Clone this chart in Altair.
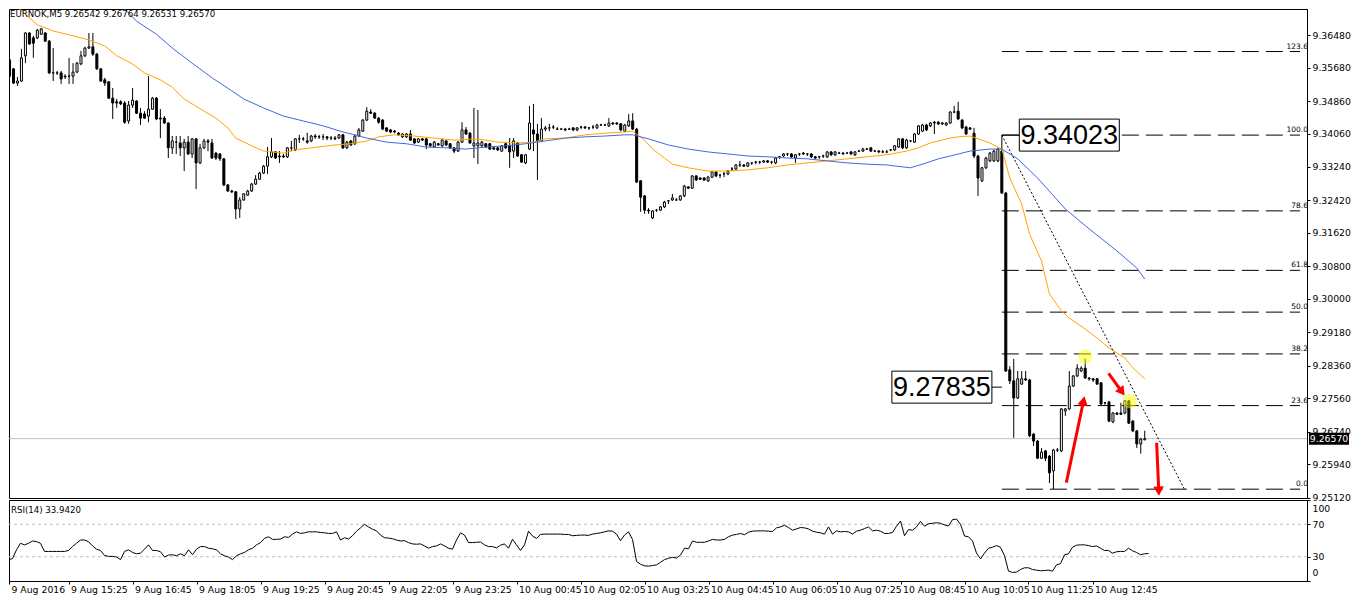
import json
import math
import altair as alt
import pandas as pd

# ---------------- data ----------------
SYMBOL = "EURNOK,M5"
TIME_LABELS = ["9 Aug 2016", "9 Aug 15:25", "9 Aug 16:45", "9 Aug 18:05", "9 Aug 19:25",
               "9 Aug 20:45", "9 Aug 22:05", "9 Aug 23:25", "10 Aug 00:45", "10 Aug 02:05",
               "10 Aug 03:25", "10 Aug 04:45", "10 Aug 06:05", "10 Aug 07:25", "10 Aug 08:45",
               "10 Aug 10:05", "10 Aug 11:25", "10 Aug 12:45"]
BARS_PER_LABEL = 16

OPENS = [
 9.3587, 9.3565, 9.3530, 9.3535, 9.3597, 9.3653, 9.3641, 9.3641, 9.3650, 9.3653,
 9.3633, 9.3555, 9.3555, 9.3555, 9.3545, 9.3547, 9.3547, 9.3557, 9.3577, 9.3597,
 9.3616, 9.3619, 9.3601, 9.3565, 9.3538, 9.3533, 9.3493, 9.3484, 9.3484, 9.3481,
 9.3437, 9.3476, 9.3486, 9.3456, 9.3454, 9.3449, 9.3466, 9.3493, 9.3444, 9.3444,
 9.3432, 9.3371, 9.3385, 9.3383, 9.3371, 9.3385, 9.3356, 9.3393, 9.3334, 9.3371,
 9.3388, 9.3383, 9.3358, 9.3356, 9.3344, 9.3280, 9.3265, 9.3263, 9.3221, 9.3243,
 9.3255, 9.3265, 9.3282, 9.3294, 9.3309, 9.3326, 9.3349, 9.3361, 9.3351, 9.3351,
 9.3349, 9.3371, 9.3366, 9.3393, 9.3393, 9.3388, 9.3388, 9.3400, 9.3398, 9.3398,
 9.3398, 9.3395, 9.3395, 9.3395, 9.3403, 9.3371, 9.3388, 9.3381, 9.3400, 9.3412,
 9.3439, 9.3459, 9.3456, 9.3444, 9.3439, 9.3420, 9.3415, 9.3412, 9.3407, 9.3398,
 9.3398, 9.3405, 9.3393, 9.3385, 9.3393, 9.3393, 9.3381, 9.3373, 9.3381, 9.3376,
 9.3388, 9.3381, 9.3371, 9.3363, 9.3385, 9.3415, 9.3407, 9.3376, 9.3376, 9.3376,
 9.3381, 9.3381, 9.3371, 9.3371, 9.3363, 9.3381, 9.3376, 9.3363, 9.3383, 9.3354,
 9.3334, 9.3368, 9.3415, 9.3405, 9.3388, 9.3417, 9.3420, 9.3422, 9.3417, 9.3417,
 9.3417, 9.3417, 9.3420, 9.3415, 9.3422, 9.3422, 9.3420, 9.3422, 9.3420, 9.3427,
 9.3427, 9.3425, 9.3432, 9.3432, 9.3430, 9.3412, 9.3425, 9.3437, 9.3417, 9.3290,
 9.3253, 9.3218, 9.3199, 9.3218, 9.3218, 9.3226, 9.3241, 9.3243, 9.3243, 9.3243,
 9.3253, 9.3275, 9.3272, 9.3302, 9.3297, 9.3297, 9.3290, 9.3299, 9.3312, 9.3304,
 9.3307, 9.3307, 9.3319, 9.3319, 9.3329, 9.3329, 9.3326, 9.3334, 9.3336, 9.3336,
 9.3336, 9.3339, 9.3336, 9.3334, 9.3349, 9.3351, 9.3356, 9.3356, 9.3346, 9.3356,
 9.3358, 9.3356, 9.3356, 9.3349, 9.3349, 9.3351, 9.3349, 9.3361, 9.3354, 9.3358,
 9.3358, 9.3358, 9.3361, 9.3354, 9.3363, 9.3363, 9.3368, 9.3371, 9.3363, 9.3363,
 9.3361, 9.3361, 9.3366, 9.3366, 9.3373, 9.3393, 9.3371, 9.3388, 9.3385, 9.3405,
 9.3412, 9.3427, 9.3425, 9.3434, 9.3434, 9.3432, 9.3427, 9.3432, 9.3459, 9.3461,
 9.3439, 9.3422, 9.3420, 9.3407, 9.3351, 9.3290, 9.3322, 9.3339, 9.3339, 9.3339,
 9.3363, 9.3260, 9.2826, 9.2799, 9.2757, 9.2791, 9.2804, 9.2801, 9.2668, 9.2651,
 9.2609, 9.2627, 9.2614, 9.2578, 9.2629, 9.2627, 9.2725, 9.2730, 9.2786, 9.2811,
 9.2823, 9.2830, 9.2806, 9.2804, 9.2804, 9.2794, 9.2745, 9.2747, 9.2698, 9.2720,
 9.2720, 9.2720, 9.2750, 9.2700, 9.2676, 9.2644, 9.26542]

HIGHS = [
 9.3592, 9.3567, 9.3545, 9.3614, 9.3655, 9.3655, 9.3646, 9.3663, 9.3665, 9.3655,
 9.3636, 9.3616, 9.3560, 9.3560, 9.3552, 9.3592, 9.3579, 9.3582, 9.3609, 9.3619,
 9.3653, 9.3653, 9.3604, 9.3567, 9.3543, 9.3535, 9.3518, 9.3491, 9.3488, 9.3486,
 9.3486, 9.3518, 9.3488, 9.3469, 9.3461, 9.3547, 9.3496, 9.3496, 9.3466, 9.3449,
 9.3434, 9.3400, 9.3400, 9.3400, 9.3393, 9.3400, 9.3395, 9.3395, 9.3381, 9.3393,
 9.3393, 9.3393, 9.3361, 9.3358, 9.3346, 9.3282, 9.3268, 9.3265, 9.3250, 9.3260,
 9.3268, 9.3285, 9.3304, 9.3312, 9.3329, 9.3373, 9.3395, 9.3363, 9.3363, 9.3356,
 9.3373, 9.3388, 9.3395, 9.3403, 9.3398, 9.3408, 9.3403, 9.3405, 9.3403, 9.3405,
 9.3400, 9.3400, 9.3400, 9.3405, 9.3405, 9.3388, 9.3390, 9.3403, 9.3420, 9.3442,
 9.3471, 9.3466, 9.3459, 9.3447, 9.3442, 9.3422, 9.3417, 9.3415, 9.3410, 9.3407,
 9.3407, 9.3415, 9.3395, 9.3395, 9.3395, 9.3395, 9.3383, 9.3388, 9.3383, 9.3393,
 9.3390, 9.3383, 9.3373, 9.3388, 9.3434, 9.3422, 9.3410, 9.3469, 9.3464, 9.3388,
 9.3383, 9.3383, 9.3373, 9.3373, 9.3378, 9.3383, 9.3395, 9.3395, 9.3385, 9.3356,
 9.3356, 9.3474, 9.3479, 9.3430, 9.3444, 9.3425, 9.3430, 9.3427, 9.3422, 9.3420,
 9.3420, 9.3420, 9.3422, 9.3422, 9.3425, 9.3425, 9.3422, 9.3427, 9.3430, 9.3430,
 9.3430, 9.3444, 9.3434, 9.3434, 9.3432, 9.3430, 9.3454, 9.3456, 9.3420, 9.3292,
 9.3255, 9.3223, 9.3218, 9.3221, 9.3228, 9.3241, 9.3243, 9.3258, 9.3248, 9.3255,
 9.3280, 9.3277, 9.3304, 9.3304, 9.3299, 9.3299, 9.3302, 9.3314, 9.3314, 9.3307,
 9.3312, 9.3317, 9.3324, 9.3331, 9.3339, 9.3331, 9.3336, 9.3336, 9.3339, 9.3339,
 9.3341, 9.3341, 9.3339, 9.3349, 9.3351, 9.3358, 9.3358, 9.3358, 9.3356, 9.3358,
 9.3361, 9.3358, 9.3358, 9.3351, 9.3351, 9.3354, 9.3363, 9.3363, 9.3363, 9.3361,
 9.3361, 9.3361, 9.3363, 9.3363, 9.3366, 9.3371, 9.3371, 9.3373, 9.3366, 9.3366,
 9.3366, 9.3366, 9.3368, 9.3378, 9.3395, 9.3395, 9.3393, 9.3390, 9.3407, 9.3427,
 9.3430, 9.3430, 9.3434, 9.3437, 9.3437, 9.3434, 9.3434, 9.3461, 9.3474, 9.3484,
 9.3442, 9.3425, 9.3422, 9.3420, 9.3354, 9.3324, 9.3349, 9.3361, 9.3366, 9.3371,
 9.34023, 9.3263, 9.2835, 9.2853, 9.2823, 9.2823, 9.2823, 9.2804, 9.2671, 9.2654,
 9.2634, 9.2629, 9.2617, 9.2632, 9.2634, 9.2732, 9.2732, 9.2823, 9.2813, 9.2840,
 9.2835, 9.2853, 9.2808, 9.2806, 9.2806, 9.2796, 9.2747, 9.2750, 9.2722, 9.2722,
 9.2745, 9.2752, 9.2752, 9.2703, 9.2678, 9.2659, 9.26764]

LOWS = [
 9.3543, 9.3528, 9.3523, 9.3533, 9.3579, 9.3624, 9.3592, 9.3638, 9.3648, 9.3631,
 9.3552, 9.3535, 9.3550, 9.3528, 9.3540, 9.3528, 9.3528, 9.3555, 9.3574, 9.3594,
 9.3614, 9.3597, 9.3562, 9.3533, 9.3523, 9.3491, 9.3442, 9.3469, 9.3476, 9.3430,
 9.3430, 9.3469, 9.3454, 9.3427, 9.3442, 9.3434, 9.3464, 9.3439, 9.3395, 9.3430,
 9.3346, 9.3356, 9.3356, 9.3351, 9.3314, 9.3354, 9.3346, 9.3270, 9.3331, 9.3368,
 9.3363, 9.3344, 9.3341, 9.3339, 9.3277, 9.3263, 9.3260, 9.3196, 9.3199, 9.3241,
 9.3253, 9.3263, 9.3280, 9.3292, 9.3307, 9.3307, 9.3346, 9.3344, 9.3334, 9.3346,
 9.3346, 9.3363, 9.3363, 9.3383, 9.3388, 9.3381, 9.3385, 9.3393, 9.3393, 9.3390,
 9.3390, 9.3390, 9.3390, 9.3393, 9.3368, 9.3368, 9.3376, 9.3378, 9.3398, 9.3410,
 9.3437, 9.3454, 9.3442, 9.3430, 9.3415, 9.3410, 9.3407, 9.3407, 9.3400, 9.3395,
 9.3395, 9.3388, 9.3381, 9.3383, 9.3388, 9.3368, 9.3373, 9.3371, 9.3376, 9.3373,
 9.3376, 9.3368, 9.3358, 9.3361, 9.3383, 9.3403, 9.3381, 9.3346, 9.3331, 9.3373,
 9.3371, 9.3366, 9.3366, 9.3363, 9.3361, 9.3368, 9.3322, 9.3346, 9.3349, 9.3334,
 9.3331, 9.3366, 9.3363, 9.3292, 9.3385, 9.3412, 9.3412, 9.3417, 9.3415, 9.3415,
 9.3412, 9.3415, 9.3412, 9.3412, 9.3417, 9.3417, 9.3415, 9.3417, 9.3417, 9.3425,
 9.3425, 9.3422, 9.3427, 9.3427, 9.3412, 9.3410, 9.3422, 9.3415, 9.3285, 9.3214,
 9.3209, 9.3209, 9.3196, 9.3214, 9.3216, 9.3223, 9.3233, 9.3241, 9.3241, 9.3241,
 9.3250, 9.3270, 9.3270, 9.3290, 9.3292, 9.3290, 9.3287, 9.3297, 9.3299, 9.3297,
 9.3299, 9.3304, 9.3314, 9.3317, 9.3324, 9.3324, 9.3324, 9.3329, 9.3331, 9.3331,
 9.3334, 9.3334, 9.3331, 9.3331, 9.3344, 9.3349, 9.3351, 9.3346, 9.3334, 9.3351,
 9.3354, 9.3351, 9.3346, 9.3344, 9.3344, 9.3346, 9.3346, 9.3351, 9.3351, 9.3356,
 9.3354, 9.3356, 9.3354, 9.3351, 9.3361, 9.3361, 9.3366, 9.3361, 9.3361, 9.3358,
 9.3358, 9.3358, 9.3363, 9.3363, 9.3371, 9.3368, 9.3368, 9.3385, 9.3383, 9.3403,
 9.3410, 9.3412, 9.3422, 9.3405, 9.3427, 9.3427, 9.3425, 9.3430, 9.3456, 9.3439,
 9.3417, 9.3403, 9.3415, 9.3346, 9.3253, 9.3287, 9.3319, 9.3336, 9.3336, 9.3336,
 9.3258, 9.2821, 9.2791, 9.2659, 9.2754, 9.2789, 9.2799, 9.2661, 9.2639, 9.2607,
 9.2607, 9.2602, 9.2548, 9.2533, 9.2624, 9.2624, 9.2713, 9.2727, 9.2784, 9.2808,
 9.2821, 9.2804, 9.2799, 9.2796, 9.2789, 9.2740, 9.2740, 9.2698, 9.2695, 9.2715,
 9.2715, 9.2717, 9.2693, 9.2673, 9.2634, 9.2620, 9.26531]

CLOSES = [
 9.3547, 9.3530, 9.3535, 9.3592, 9.3653, 9.3626, 9.3628, 9.3660, 9.3663, 9.3633,
 9.3555, 9.3555, 9.3555, 9.3540, 9.3547, 9.3547, 9.3557, 9.3579, 9.3597, 9.3616,
 9.3619, 9.3601, 9.3565, 9.3535, 9.3530, 9.3493, 9.3481, 9.3481, 9.3479, 9.3434,
 9.3476, 9.3488, 9.3456, 9.3444, 9.3444, 9.3466, 9.3493, 9.3442, 9.3442, 9.3432,
 9.3371, 9.3388, 9.3385, 9.3371, 9.3385, 9.3356, 9.3393, 9.3334, 9.3371, 9.3388,
 9.3385, 9.3346, 9.3346, 9.3344, 9.3280, 9.3265, 9.3263, 9.3221, 9.3243, 9.3258,
 9.3265, 9.3282, 9.3294, 9.3309, 9.3326, 9.3349, 9.3361, 9.3346, 9.3349, 9.3349,
 9.3371, 9.3371, 9.3393, 9.3393, 9.3393, 9.3385, 9.3400, 9.3398, 9.3398, 9.3398,
 9.3395, 9.3395, 9.3393, 9.3403, 9.3371, 9.3385, 9.3378, 9.3400, 9.3415, 9.3439,
 9.3461, 9.3456, 9.3444, 9.3434, 9.3417, 9.3412, 9.3410, 9.3410, 9.3403, 9.3405,
 9.3405, 9.3390, 9.3383, 9.3393, 9.3390, 9.3378, 9.3376, 9.3385, 9.3378, 9.3390,
 9.3378, 9.3371, 9.3363, 9.3385, 9.3415, 9.3405, 9.3383, 9.3383, 9.3383, 9.3385,
 9.3373, 9.3368, 9.3368, 9.3366, 9.3376, 9.3371, 9.3361, 9.3388, 9.3351, 9.3336,
 9.3354, 9.3432, 9.3405, 9.3388, 9.3417, 9.3420, 9.3420, 9.3422, 9.3417, 9.3417,
 9.3415, 9.3417, 9.3415, 9.3420, 9.3422, 9.3420, 9.3420, 9.3422, 9.3427, 9.3427,
 9.3427, 9.3432, 9.3430, 9.3430, 9.3415, 9.3427, 9.3437, 9.3417, 9.3287, 9.3250,
 9.3218, 9.3216, 9.3216, 9.3218, 9.3226, 9.3238, 9.3241, 9.3248, 9.3243, 9.3253,
 9.3277, 9.3272, 9.3302, 9.3292, 9.3294, 9.3292, 9.3299, 9.3312, 9.3302, 9.3304,
 9.3307, 9.3314, 9.3319, 9.3329, 9.3329, 9.3326, 9.3334, 9.3334, 9.3336, 9.3336,
 9.3339, 9.3336, 9.3336, 9.3346, 9.3349, 9.3356, 9.3356, 9.3349, 9.3354, 9.3356,
 9.3356, 9.3356, 9.3349, 9.3346, 9.3349, 9.3351, 9.3361, 9.3354, 9.3361, 9.3358,
 9.3356, 9.3358, 9.3356, 9.3361, 9.3363, 9.3368, 9.3368, 9.3363, 9.3363, 9.3361,
 9.3361, 9.3361, 9.3366, 9.3376, 9.3393, 9.3371, 9.3390, 9.3388, 9.3405, 9.3425,
 9.3427, 9.3415, 9.3432, 9.3432, 9.3430, 9.3430, 9.3432, 9.3459, 9.3459, 9.3442,
 9.3420, 9.3405, 9.3417, 9.3351, 9.3297, 9.3322, 9.3346, 9.3358, 9.3363, 9.3368,
 9.3260, 9.2823, 9.2799, 9.2757, 9.2804, 9.2804, 9.2801, 9.2664, 9.2651, 9.2609,
 9.2624, 9.2609, 9.2573, 9.2629, 9.2629, 9.2730, 9.2730, 9.2786, 9.2811, 9.2830,
 9.2830, 9.2806, 9.2804, 9.2801, 9.2791, 9.2742, 9.2745, 9.2700, 9.2720, 9.2717,
 9.2717, 9.2750, 9.2695, 9.2676, 9.2644, 9.2656, 9.26570]

RSI = [
 27.6, 26.4, 27.6, 38.5, 46.6, 44.6, 46.6, 49.4, 48.6, 46.6,
 36.5, 36.5, 36.5, 36.5, 36.5, 36.5, 37.7, 42.5, 46.6, 50.6,
 50.6, 48.6, 43.3, 39.3, 37.7, 31.6, 30.4, 30.4, 29.6, 26.4,
 36.5, 38.5, 35.3, 33.6, 34.4, 39.3, 44.6, 37.7, 37.7, 36.1,
 29.6, 32.0, 32.4, 31.2, 33.6, 31.2, 38.5, 32.4, 39.3, 42.5,
 42.5, 40.5, 39.7, 38.5, 33.6, 31.2, 29.6, 26.4, 31.2, 33.6,
 35.3, 38.5, 40.5, 44.6, 47.4, 52.6, 54.6, 51.4, 51.4, 51.8,
 54.6, 53.8, 57.9, 60.7, 58.7, 59.5, 60.7, 60.7, 60.7, 59.9,
 59.5, 58.7, 58.7, 60.7, 50.6, 53.4, 51.8, 55.9, 61.5, 65.6,
 70.0, 66.8, 63.9, 61.9, 56.7, 53.4, 53.0, 52.2, 50.6, 49.4,
 49.8, 47.4, 45.8, 45.4, 45.8, 43.3, 40.5, 42.5, 43.3, 45.8,
 43.3, 40.5, 39.3, 50.6, 59.5, 56.7, 47.4, 47.4, 47.8, 48.2,
 44.6, 42.5, 42.5, 40.9, 44.2, 45.8, 40.5, 51.4, 44.6, 37.7,
 44.6, 61.5, 55.5, 52.6, 57.5, 57.9, 57.9, 57.9, 57.9, 57.9,
 57.5, 57.5, 55.9, 56.3, 56.7, 56.7, 56.3, 57.9, 58.7, 59.5,
 60.7, 61.9, 61.5, 57.9, 49.8, 56.7, 60.7, 51.4, 24.3, 20.7,
 18.7, 18.3, 19.1, 19.9, 23.1, 26.4, 28.0, 29.2, 28.4, 32.0,
 40.5, 39.7, 49.4, 47.8, 47.8, 47.8, 49.4, 51.4, 50.6, 50.6,
 51.4, 54.6, 56.7, 57.5, 58.7, 57.1, 60.3, 61.5, 61.9, 61.9,
 61.9, 61.5, 61.1, 65.6, 66.8, 68.8, 66.0, 62.7, 64.3, 66.0,
 65.6, 64.3, 61.5, 60.3, 59.5, 57.9, 66.8, 57.9, 61.9, 60.7,
 61.1, 60.7, 57.9, 61.5, 62.7, 64.7, 66.8, 61.9, 62.7, 61.5,
 58.7, 58.7, 59.9, 67.6, 74.0, 55.9, 63.5, 62.7, 66.8, 73.6,
 67.6, 70.8, 71.2, 72.0, 71.2, 69.2, 68.0, 75.7, 76.5, 70.0,
 55.5, 54.6, 49.4, 34.4, 27.2, 34.4, 40.5, 41.7, 43.7, 41.7,
 31.2, 12.2, 10.6, 11.0, 14.2, 16.3, 16.3, 14.2, 13.4, 12.6,
 13.0, 13.4, 12.2, 19.9, 21.5, 32.4, 33.6, 41.7, 44.2, 44.6,
 44.6, 43.7, 42.5, 43.3, 40.5, 37.7, 37.7, 34.4, 36.1, 36.5,
 36.5, 40.5, 37.3, 35.3, 32.4, 33.6, 33.942]

MA_FAST_BARS = [0, 7, 11, 16, 20, 24, 27, 31, 34, 38, 41, 44, 49, 52, 55, 57, 61, 64, 69, 72,
                76, 82, 86, 90, 93, 97, 102, 107, 112, 117, 120, 123, 128, 132, 135, 140, 145,
                150, 155, 157, 160, 162, 165, 167, 171, 176, 181, 186, 191, 196, 201, 206, 211,
                216, 221, 226, 229, 232, 237, 239, 242, 247, 250, 252, 255, 257, 260, 262, 265,
                267, 271, 274, 277, 281, 283, 286]
MA_FAST = [9.3734, 9.3673, 9.3658, 9.3646, 9.3636, 9.3621, 9.3597, 9.3577, 9.3555, 9.3538,
           9.3520, 9.3491, 9.3461, 9.3444, 9.3420, 9.3395, 9.3376, 9.3363, 9.3358, 9.3366,
           9.3371, 9.3378, 9.3381, 9.3388, 9.3398, 9.3403, 9.3400, 9.3395, 9.3390, 9.3393,
           9.3390, 9.3385, 9.3383, 9.3385, 9.3393, 9.3395, 9.3403, 9.3407, 9.3410, 9.3412,
           9.3390, 9.3368, 9.3346, 9.3331, 9.3322, 9.3314, 9.3314, 9.3317, 9.3322, 9.3329,
           9.3334, 9.3339, 9.3344, 9.3349, 9.3354, 9.3363, 9.3371, 9.3383, 9.3395, 9.3398,
           9.3400, 9.3383, 9.3368, 9.3297, 9.3233, 9.3159, 9.3093, 9.3012, 9.2971, 9.2953,
           9.2926, 9.2904, 9.2880, 9.2855, 9.2831, 9.2804]
MA_SLOW_BARS = [20, 27, 32, 37, 41, 46, 51, 56, 59, 64, 69, 74, 79, 84, 87, 90, 95, 100, 105,
                110, 115, 120, 125, 130, 135, 140, 145, 150, 155, 157, 161, 166, 171, 176, 181,
                186, 191, 196, 201, 206, 211, 216, 221, 227, 231, 234, 237, 242, 247, 250, 254,
                259, 266, 272, 279, 284, 286]
MA_SLOW = [9.3805, 9.3732, 9.3682, 9.3650, 9.3616, 9.3579, 9.3543, 9.3511, 9.3491, 9.3469,
           9.3449, 9.3437, 9.3425, 9.3410, 9.3403, 9.3395, 9.3385, 9.3381, 9.3373, 9.3371,
           9.3368, 9.3373, 9.3376, 9.3381, 9.3388, 9.3395, 9.3398, 9.3400, 9.3403, 9.3403,
           9.3393, 9.3378, 9.3368, 9.3361, 9.3356, 9.3351, 9.3349, 9.3346, 9.3344, 9.3339,
           9.3334, 9.3331, 9.3329, 9.3322, 9.3334, 9.3344, 9.3351, 9.3363, 9.3368, 9.3368,
           9.3344, 9.3297, 9.3221, 9.3172, 9.3118, 9.3076, 9.3049]

PRICE_TICKS = [9.36480, 9.35680, 9.34860, 9.34060, 9.33240, 9.32420, 9.31620, 9.30800,
               9.30000, 9.29180, 9.28360, 9.27560, 9.26740, 9.25940, 9.25120]
RSI_TICKS = [0, 30, 70, 100]
RSI_LEVELS = [70, 30]

FIB_HIGH = 9.34023
FIB_LOW = 9.2533
FIB_START_BAR = 250
FIB_RATIOS = [0.0, 23.6, 38.2, 50.0, 61.8, 78.6, 100.0, 123.6]
TREND_END_BAR = 296

LABEL_PRICES = [9.34023, 9.27835]
LABEL_CENTER_BARS = [267.0, 234.9]
LABEL_SIDE = ["right", "left"]        # which side of bar 250 the box sits on

HIGHLIGHT_BARS = [271.0, 282.25]
HIGHLIGHT_PRICES = [9.2858, 9.2749]

ARROW_TAIL_BARS = [266.25, 276.9, 289.0]
ARROW_TAIL_PRICES = [9.2549, 9.2817, 9.2647]
ARROW_TIP_BARS = [270.85, 281.0, 289.6]
ARROW_TIP_PRICES = [9.2762, 9.2762, 9.2516]

# ---------------- layout ----------------
W = 1298
H_MAIN = 489
H_RSI = 81
PX_PER_BAR = 4
PX_PER_PRICE = 4073
X0 = 1.125
X1 = X0 + W / PX_PER_BAR
Y_TOP = 9.37119
Y_BOT = Y_TOP - H_MAIN / PX_PER_PRICE
FONT = "DejaVu Sans"
BOX_W, BOX_H = 100, 32

xs = alt.Scale(domain=[X0, X1], nice=False, zero=False)
ys = alt.Scale(domain=[Y_BOT, Y_TOP], nice=False, zero=False)
rs = alt.Scale(domain=[0, 100], nice=False, zero=False)

price_axis = alt.Axis(orient="right", values=PRICE_TICKS, format=".5f", tickSize=3,
                      labelPadding=2, labelFont=FONT, labelFontSize=9.3, labelColor="black",
                      tickColor="black", domainColor="black", grid=False, title=None,
                      labelOverlap=False)


def X(f):
    return alt.X(f, type="quantitative", scale=xs, axis=None)


def Y(f):
    return alt.Y(f, type="quantitative", scale=ys, axis=price_axis)


n = len(CLOSES)
candles = pd.DataFrame({"bar": list(range(n)), "open": OPENS, "high": HIGHS,
                        "low": LOWS, "close": CLOSES})
last_close = CLOSES[-1]

price_line = alt.Chart(pd.DataFrame({"price": [last_close]})).mark_rule(
    color="#c0c0c0", strokeWidth=1).encode(y=Y("price"))

fib = pd.DataFrame({
    "ratio": FIB_RATIOS,
    "price": [FIB_LOW + r / 100 * (FIB_HIGH - FIB_LOW) for r in FIB_RATIOS],
    "bar": [FIB_START_BAR] * len(FIB_RATIOS),
    "bar2": [X1 - 0.5] * len(FIB_RATIOS),
})
fib["label"] = [f"{r:.1f}" for r in FIB_RATIOS]
fib_lines = alt.Chart(fib).mark_rule(color="black", strokeWidth=1, strokeDash=[17, 7],
                                     clip=True).encode(
    x=X("bar"), x2="bar2", y=Y("price"))
fib_text = alt.Chart(fib).mark_text(align="right", baseline="bottom", dy=-1, font=FONT,
                                    fontSize=7.5, color="black").encode(
    x=alt.value(W + 1), y=Y("price"), text="label")

trend = pd.DataFrame({"bar": [FIB_START_BAR], "price": [FIB_HIGH],
                      "bar2": [TREND_END_BAR], "price2": [FIB_LOW]})
trend_line = alt.Chart(trend).mark_rule(color="black", strokeWidth=1, strokeDash=[2, 2],
                                        clip=True).encode(
    x=X("bar"), x2="bar2", y=Y("price"), y2="price2")

wicks = alt.Chart(candles).mark_rule(color="black", strokeWidth=1, clip=True).encode(
    x=X("bar"), y=Y("low"), y2="high")
bodies = alt.Chart(candles).mark_bar(size=2, stroke="black", strokeWidth=1, clip=True).encode(
    x=X("bar"), y=Y("open"), y2="close",
    fill=alt.condition("datum.close > datum.open", alt.value("white"), alt.value("black")))

fast = pd.DataFrame({"bar": MA_FAST_BARS, "price": MA_FAST})
slow = pd.DataFrame({"bar": MA_SLOW_BARS, "price": MA_SLOW})
fast_line = alt.Chart(fast).mark_line(color="#FFA500", strokeWidth=1, clip=True).encode(
    x=X("bar"), y=Y("price"))
slow_line = alt.Chart(slow).mark_line(color="#4169E1", strokeWidth=1, clip=True).encode(
    x=X("bar"), y=Y("price"))

hl = pd.DataFrame({"bar": HIGHLIGHT_BARS, "price": HIGHLIGHT_PRICES})
highlights = alt.Chart(hl).mark_circle(size=210, color="#ffff00", opacity=0.5).encode(
    x=X("bar"), y=Y("price"))

rows = []
for tb, tp, hb, hp in zip(ARROW_TAIL_BARS, ARROW_TAIL_PRICES, ARROW_TIP_BARS, ARROW_TIP_PRICES):
    dxp = (hb - tb) * PX_PER_BAR
    dyp = -(hp - tp) * PX_PER_PRICE
    length = math.hypot(dxp, dyp)
    f = 5.0 / length
    rows.append({"bar": tb, "price": tp,
                 "hbar": hb - f * (hb - tb), "hprice": hp - f * (hp - tp),
                 "angle": (math.degrees(math.atan2(dxp, -dyp)) + 360) % 360})
arrows = pd.DataFrame(rows)
arrow_shafts = alt.Chart(arrows).mark_rule(color="#ff0000", strokeWidth=3,
                                           strokeCap="butt").encode(
    x=X("bar"), x2="hbar", y=Y("price"), y2="hprice")
arrow_heads = alt.Chart(arrows).mark_point(shape="triangle-up", size=110, filled=True,
                                           color="#ff0000", opacity=1).encode(
    x=X("hbar"), y=Y("hprice"), angle=alt.Angle("angle:Q", scale=None))

half_box_bars = BOX_W / 2 / PX_PER_BAR
labels = pd.DataFrame({"bar": LABEL_CENTER_BARS, "price": LABEL_PRICES,
                       "text": [f"{p:.5f}" for p in LABEL_PRICES]})
labels["edge"] = [c - half_box_bars if s == "right" else c + half_box_bars
                  for c, s in zip(LABEL_CENTER_BARS, LABEL_SIDE)]
labels["anchor"] = [FIB_START_BAR] * len(LABEL_PRICES)
connectors = alt.Chart(labels).mark_rule(color="black", strokeWidth=1).encode(
    x=X("anchor"), x2="edge", y=Y("price"))
hy = BOX_H / BOX_W
box_shape = f"M-1,-{hy:.3f}L1,-{hy:.3f}L1,{hy:.3f}L-1,{hy:.3f}Z"
boxes = alt.Chart(labels).mark_point(shape=box_shape, size=BOX_W ** 2, filled=True,
                                     fill="white", stroke="black", strokeWidth=1,
                                     opacity=1).encode(x=X("bar"), y=Y("price"))
box_text = alt.Chart(labels).mark_text(font="Liberation Sans", fontSize=27, color="black",
                                       align="center", baseline="middle", dy=1).encode(
    x=X("bar"), y=Y("price"), text="text")

header = f"{SYMBOL}  {OPENS[-1]:.5f} {HIGHS[-1]:.5f} {LOWS[-1]:.5f} {CLOSES[-1]:.5f}"
header_text = alt.Chart(pd.DataFrame({"t": [header]})).mark_text(
    align="left", baseline="top", font=FONT, fontSize=8.6, color="black").encode(
    x=alt.value(1), y=alt.value(1), text="t")

tag = pd.DataFrame({"price": [last_close], "t": [f"{last_close:.5f}"]})
tag_shape = "M-1,-0.3L1,-0.3L1,0.3L-1,0.3Z"
tag_box = alt.Chart(tag).mark_point(shape=tag_shape, size=40 ** 2, filled=True,
                                    color="black", opacity=1).encode(
    x=alt.value(W + 22), y=Y("price"))
tag_text = alt.Chart(tag).mark_text(font=FONT, fontSize=9.3, color="white",
                                    align="center", baseline="middle").encode(
    x=alt.value(W + 22), y=Y("price"), text="t")

main = alt.layer(
    price_line, fib_lines, fib_text, wicks, bodies, fast_line, slow_line, trend_line,
    highlights, arrow_shafts, arrow_heads, connectors, boxes, box_text, header_text,
    tag_box, tag_text,
).properties(width=W, height=H_MAIN)

# ---------------- RSI panel ----------------
rsi_df = pd.DataFrame({"bar": list(range(n)), "rsi": RSI})
tick_values = [X0] + [BARS_PER_LABEL * k for k in range(1, len(TIME_LABELS))]
label_expr = f"{json.dumps(TIME_LABELS)}[round(datum.value / {BARS_PER_LABEL})]"
time_axis = alt.Axis(values=tick_values, labelExpr=label_expr, labelAlign="left",
                     labelBaseline="top", labelPadding=1, labelOffset=2, tickSize=3,
                     labelFont=FONT, labelFontSize=9.3, labelColor="black",
                     tickColor="black", domainColor="black", grid=False, title=None,
                     labelOverlap=False, labelFlush=False)
rsi_axis = alt.Axis(orient="right", values=RSI_TICKS, format="d", labelFlush=True,
                    labelFlushOffset=-4, tickSize=3, labelPadding=2, labelFont=FONT,
                    labelFontSize=9.3, labelColor="black", tickColor="black",
                    domainColor="black", grid=False, title=None, labelOverlap=False)

levels = alt.Chart(pd.DataFrame({"lvl": RSI_LEVELS})).mark_rule(
    color="#c0c0c0", strokeWidth=1, strokeDash=[3, 3]).encode(
    y=alt.Y("lvl:Q", scale=rs, axis=rsi_axis))
rsi_line = alt.Chart(rsi_df).mark_line(color="black", strokeWidth=1, clip=True).encode(
    x=alt.X("bar:Q", scale=xs, axis=time_axis),
    y=alt.Y("rsi:Q", scale=rs, axis=rsi_axis))
rsi_title = alt.Chart(pd.DataFrame({"t": [f"RSI(14) {RSI[-1]:.4f}"]})).mark_text(
    align="left", baseline="middle", font=FONT, fontSize=8.6, color="black").encode(
    x=alt.value(2), y=alt.value(10), text="t")

rsi = alt.layer(levels, rsi_line, rsi_title).properties(width=W, height=H_RSI)

chart = alt.vconcat(main, rsi, spacing=2, bounds="flush").properties(
    padding={"left": 0, "top": 0, "right": 0, "bottom": 0},
    background="white",
).configure_view(stroke="black", strokeWidth=1)

chart.save("out.html", embed_options={"renderer": "svg", "actions": False})
